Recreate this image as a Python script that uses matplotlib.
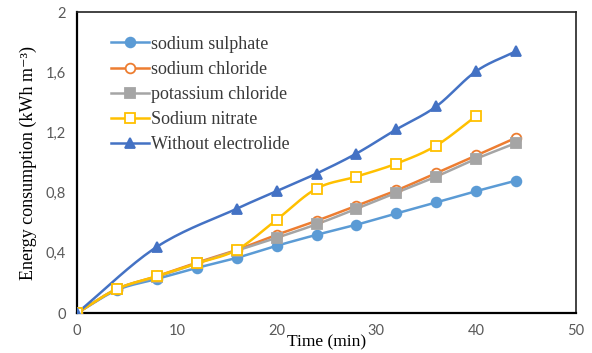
import numpy as np
import matplotlib
matplotlib.use("Agg")
from matplotlib import pyplot as plt

time_min = [0, 4, 8, 12, 16, 20, 24, 28, 32, 36, 40, 44]
time_nitrate = [0, 4, 8, 12, 16, 20, 24, 28, 32, 36, 40]
time_none = [0, 8, 16, 20, 24, 28, 32, 36, 40, 44]

sodium_sulphate = [0, 0.153, 0.227, 0.30, 0.367, 0.447, 0.52, 0.587, 0.662, 0.735, 0.81, 0.88]
sodium_chloride = [0, 0.16, 0.245, 0.335, 0.42, 0.52, 0.613, 0.713, 0.815, 0.93, 1.047, 1.165]
potassium_chloride = [0, 0.16, 0.24, 0.33, 0.415, 0.50, 0.59, 0.693, 0.80, 0.907, 1.025, 1.13]
sodium_nitrate = [0, 0.16, 0.245, 0.33, 0.42, 0.62, 0.827, 0.907, 0.993, 1.113, 1.31]
without_electrolide = [0, 0.44, 0.693, 0.81, 0.927, 1.06, 1.22, 1.373, 1.607, 1.74]

x_ticks = [0, 10, 20, 30, 40, 50]
y_ticks = [0, 0.4, 0.8, 1.2, 1.6, 2.0]
y_tick_labels = ["0", "0,4", "0,8", "1,2", "1,6", "2"]


def smooth(x, y, n=20):
    # Catmull-Rom curve through the points, like Excel's smoothed line
    x = np.asarray(x, float)
    y = np.asarray(y, float)
    px = np.concatenate([[2 * x[0] - x[1]], x, [2 * x[-1] - x[-2]]])
    py = np.concatenate([[2 * y[0] - y[1]], y, [2 * y[-1] - y[-2]]])
    xs, ys = [], []
    t = np.linspace(0, 1, n)
    for i in range(1, len(px) - 2):
        for p, out in ((px, xs), (py, ys)):
            p0, p1, p2, p3 = p[i - 1], p[i], p[i + 1], p[i + 2]
            out.extend(0.5 * (2 * p1 + (-p0 + p2) * t
                              + (2 * p0 - 5 * p1 + 4 * p2 - p3) * t ** 2
                              + (-p0 + 3 * p1 - 3 * p2 + p3) * t ** 3))
    return xs, ys


series = [
    ("sodium sulphate", time_min, sodium_sulphate, "#5B9BD5", "o", "#5B9BD5"),
    ("sodium chloride", time_min, sodium_chloride, "#ED7D31", "o", "white"),
    ("potassium chloride", time_min, potassium_chloride, "#A5A5A5", "s", "#A5A5A5"),
    ("Sodium nitrate", time_nitrate, sodium_nitrate, "#FFC000", "s", "white"),
    ("Without electrolide", time_none, without_electrolide, "#4472C4", "^", "#4472C4"),
]

serif = ["Liberation Serif", "DejaVu Serif"]

fig = plt.figure(figsize=(5.92, 3.53), dpi=100)
ax = fig.add_axes([0.130, 0.113, 0.843, 0.853])

handles = []
for label, xs, ys, color, marker, face in series:
    sx, sy = smooth(xs, ys)
    ax.plot(sx, sy, color=color, lw=1.8, zorder=2)
    ax.plot(xs, ys, ls="none", marker=marker, ms=7, mfc=face, mec=color,
            mew=1.3, zorder=3)
    h, = ax.plot([], [], color=color, lw=1.8, marker=marker, ms=7,
                 mfc=face, mec=color, mew=1.3, label=label)
    handles.append(h)

ax.set_xlim(0, 50)
ax.set_ylim(0, 2)
ax.set_xticks(x_ticks)
ax.set_yticks(y_ticks)
ax.set_yticklabels(y_tick_labels)
ax.tick_params(length=0, labelsize=10.5, labelcolor="#595959", pad=8)
for lab in ax.get_xticklabels() + ax.get_yticklabels():
    lab.set_family("Lato")
for side in ["left", "bottom"]:
    ax.spines[side].set_linewidth(1.6)
    ax.spines[side].set_color("black")
for side in ["top", "right"]:
    ax.spines[side].set_linewidth(1.2)
    ax.spines[side].set_color("#222222")

ax.set_xlabel("Time (min)", family=serif, fontsize=12.5, labelpad=-3)
ax.set_ylabel("Energy consumption (kWh m⁻³)", family=serif,
              fontsize=13, labelpad=6)

leg = ax.legend(handles=handles, loc="upper left", frameon=False,
                prop={"family": serif, "size": 13},
                handlelength=2.1, handletextpad=0.15, labelspacing=0.45,
                bbox_to_anchor=(0.035, 0.975))
for t in leg.get_texts():
    t.set_color("#3a3a3a")

fig.savefig("out.png", dpi=100)
